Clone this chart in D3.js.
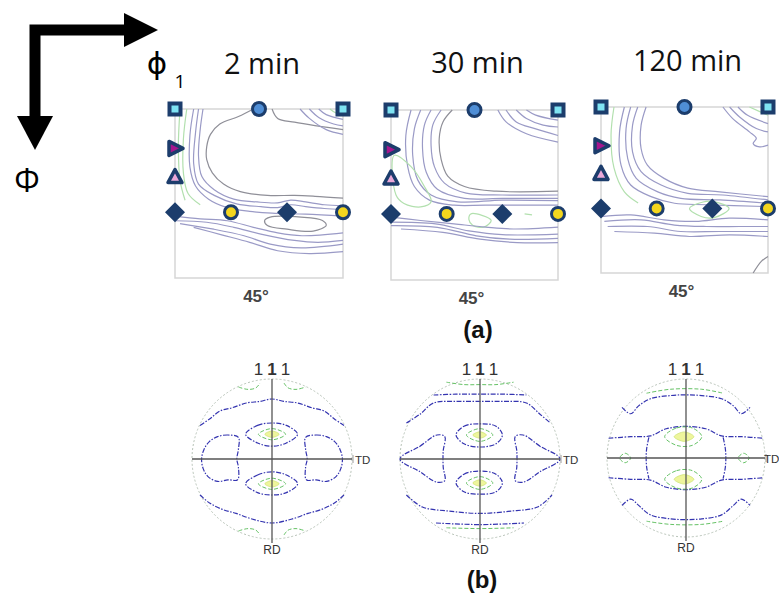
<!DOCTYPE html>
<html>
<head>
<meta charset="utf-8">
<script src="https://cdn.jsdelivr.net/npm/d3@7"></script>
<style>
  body { margin: 0; background: #fff; }
  svg { display: block; }
</style>
</head>
<body>
<div id="fig"></div>
<script>
// annealing times
const times = ["2 min", "30 min", "120 min"];
const sectionLabel = "45°";

// ideal orientations on the phi2 = 45 deg ODF section, [phi1, PHI] in degrees
const rotCube = [[0, 0], [90, 0]];
const rotCubeMid = [[45, 0]];
const alpha113 = [[0, 21]];
const alpha112 = [[0, 36]];
const gamma110 = [[0, 55], [60, 55]];
const gamma112 = [[30, 55], [90, 55]];

// traced ODF iso-lines, [phi1, PHI] degrees; lv 1 = low (grey), 2 = mid, 3 = high (green)
const odf2 = [
  { lv: 1, p: [[42,0],[34,4],[24,8],[19,13.5],[17,20],[17,27],[20,34],[26,40],[35,44],[49.5,46],[64,46],[75,46.5],[90,47.5]] },
  { lv: 1, p: [[52,0],[55,5],[64,7],[76,9],[90,11]] },
  { lv: 2, p: [[67,0],[72,5],[81,11],[90,13.5]] },
  { lv: 2, p: [[72,0],[77,4.5],[85,8],[90,9]] },
  { lv: 2, p: [[77,0],[81,3],[90,5.5]] },
  { lv: 3, p: [[83,0],[86,2],[90,3]] },
  { lv: 2, p: [[15,0],[13.5,11],[12.6,25],[14.4,36],[21,43],[31.5,48],[44,49.5],[55,50],[62,48.5],[70,49.5],[80,51],[90,51.5]] },
  { lv: 2, p: [[12.6,0],[11,12.6],[10,29],[12.6,40],[21,46],[33,50.5],[46,52],[55,52.5],[62,51],[70,52],[80,53],[90,53.5]] },
  { lv: 2, p: [[10,0],[8,14],[8,31],[11,41],[18,48],[28,52.5],[40,54.5],[52,55.5],[70,56],[90,57]] },
  { lv: 3, p: [[6.3,0],[4.5,16],[4.5,34],[7,45],[13.5,51]] },
  { lv: 3, p: [[2.7,0],[1.8,20],[2.7,38],[5.4,48.6]] },
  { lv: 2, p: [[0,57],[13.5,58.5],[28,59.5],[42,63],[55,66],[68,67.5],[90,66]] },
  { lv: 2, p: [[0,59.5],[17,60.3],[31.5,63],[46,66.6],[64,70],[76.5,71],[90,70]] },
  { lv: 2, p: [[2.7,61],[20.7,64],[37,67.5],[51,72],[67.5,74],[90,72]] },
  { lv: 2, p: [[10,63],[25,67],[40,71],[55,75.5],[72,77],[90,76]] },
  { lv: 1, z: 1, p: [[48,59.4],[51,57.6],[67.5,57.6],[79,59.4],[81,62],[74,65],[60,64],[49.5,62]] }
];
const odf30 = [
  { lv: 2, p: [[57.6,0],[62,6.3],[73,12.6],[90,17]] },
  { lv: 2, p: [[62,0],[67.5,6.3],[78,10],[90,13.5]] },
  { lv: 2, p: [[67.5,0],[73,4.5],[82,8],[90,9]] },
  { lv: 2, p: [[73,0],[78,2.7],[90,5.4]] },
  { lv: 1, p: [[33,0],[28,6.3],[26,15],[27,26],[30.6,35],[39.6,40.5],[56.7,43],[90,43]] },
  { lv: 2, p: [[27,0],[22.5,8],[21.6,19],[23.4,30],[28.8,38.7],[40.5,44],[60,45],[90,45]] },
  { lv: 2, p: [[21.6,0],[18,8],[17,20.7],[19,33],[25,42],[39.6,46.8],[60,46.8],[90,46.8]] },
  { lv: 2, p: [[16,0],[12.6,10],[11.7,24],[14.4,37],[21.6,45],[36,48.6],[60,47.7],[90,48]] },
  { lv: 2, p: [[10.8,0],[8,13.5],[9,30],[12.6,40.5],[20.7,47.7],[34,50.4],[51,50.4],[90,50.4]] },
  { lv: 3, z: 1, p: [[1.8,24],[10.8,30],[18,40.5],[21.6,48.6],[16,51.3],[7,49.5],[2.7,45]] },
  { lv: 3, z: 1, p: [[43,55],[49,55.8],[54,58.5],[50,62],[44,61],[42,58]] },
  { lv: 3, p: [[72,55],[76,55.5]] },
  { lv: 2, p: [[0,56.7],[16,58.5],[34,60.3],[51,62],[66,63],[90,62]] },
  { lv: 2, p: [[0,59.4],[24,60.3],[42,64],[60,66],[90,65.7]] },
  { lv: 2, p: [[0,61.2],[25,62.1],[46,66.6],[64,68.4],[90,68]] },
  { lv: 2, p: [[5.4,63],[28,64.8],[48,68.4],[68,70.2],[90,70.2]] }
];
const odf120 = [
  { lv: 2, p: [[65.7,0],[71,6.3],[80,13.5],[83.7,17],[82,19.8],[85.5,21.6],[90,20.7]] },
  { lv: 2, p: [[69.3,0],[74.7,5.4],[83.7,11.7],[90,13.5]] },
  { lv: 2, p: [[73.8,0],[79,4.5],[90,9]] },
  { lv: 3, p: [[80,0],[90,4.5]] },
  { lv: 2, p: [[24.3,0],[21.6,10],[21.6,22.5],[25,31.5],[34,38.7],[46.8,44],[64,46],[90,48.6]] },
  { lv: 2, p: [[19.8,0],[17,10],[17,24.3],[21.6,35],[32.4,42.3],[46.8,46.8],[65.7,47.7],[90,50.4]] },
  { lv: 2, p: [[16,0],[13.5,11.7],[14.4,28],[19,38.7],[30.6,46],[43,49.5],[64,50.4],[90,52.2]] },
  { lv: 2, p: [[12.6,0],[10,13.5],[10.8,31.5],[16,42.3],[27,48.6],[39.6,52.2],[56.7,53],[90,54]] },
  { lv: 3, p: [[7,0],[5.4,15.3],[7,33],[12.6,46],[20,52]] },
  { lv: 3, z: 1, p: [[47.7,55],[55,51.5],[61,51.3],[69,55],[61,60],[54,59.4]] },
  { lv: 2, p: [[0,59.4],[16,58.5],[34,61.2],[51,62],[69,60.3],[90,61.2]] },
  { lv: 2, p: [[1.8,62],[21.6,61.2],[39.6,64],[56.7,64.8],[74.7,64.8],[90,64.8]] },
  { lv: 2, p: [[3.6,64.8],[25,64.8],[43,67.5],[64,67.5],[90,67.5]] },
  { lv: 2, p: [[7.2,67.5],[28.8,68.4],[47.7,70.2],[69.3,69.3],[90,70.2]] },
  { lv: 1, p: [[82,90],[86.4,83.7],[90,81]] }
];
const odfData = [odf2, odf30, odf120];

// traced {111} pole figure iso-lines, x = TD, y = RD, unit circle
// lv 1 = blue (low), 2 = green, 3 = yellow core
const pf2 = [
  { lv: 2, p: [[-0.42,-0.9],[-0.3,-0.87],[-0.2,-0.89],[-0.15,-0.95]] },
  { lv: 2, p: [[0.15,-0.95],[0.2,-0.89],[0.3,-0.87],[0.42,-0.9]] },
  { lv: 2, p: [[-0.42,0.9],[-0.3,0.87],[-0.2,0.89],[-0.15,0.95]] },
  { lv: 2, p: [[0.15,0.95],[0.2,0.89],[0.3,0.87],[0.42,0.9]] },
  { lv: 1, p: [[-0.9,-0.42],[-0.78,-0.5],[-0.65,-0.6],[-0.5,-0.64],[-0.32,-0.7],[-0.15,-0.72],[0,-0.75],[0.15,-0.72],[0.32,-0.7],[0.5,-0.64],[0.65,-0.6],[0.78,-0.5],[0.9,-0.42]] },
  { lv: 1, p: [[-0.9,0.45],[-0.78,0.55],[-0.62,0.63],[-0.45,0.68],[-0.25,0.75],[0,0.8],[0.25,0.75],[0.45,0.68],[0.62,0.63],[0.78,0.55],[0.9,0.45]] },
  { lv: 1, z: 1, p: [[-0.42,-0.27],[-0.55,-0.3],[-0.68,-0.28],[-0.78,-0.22],[-0.85,-0.12],[-0.88,0],[-0.86,0.12],[-0.8,0.22],[-0.68,0.28],[-0.55,0.26],[-0.43,0.26],[-0.42,0.1],[-0.44,0],[-0.42,-0.12]] },
  { lv: 1, z: 1, p: [[0.42,-0.27],[0.55,-0.3],[0.68,-0.28],[0.78,-0.22],[0.85,-0.12],[0.88,0],[0.86,0.12],[0.8,0.22],[0.68,0.28],[0.55,0.26],[0.43,0.26],[0.42,0.1],[0.44,0],[0.42,-0.12]] },
  { lv: 1, z: 1, p: [[-0.33,-0.31],[-0.18,-0.42],[0,-0.45],[0.18,-0.42],[0.32,-0.31],[0.18,-0.2],[0,-0.16],[-0.18,-0.2]] },
  { lv: 2, z: 1, p: [[-0.17,-0.31],[0,-0.38],[0.17,-0.31],[0,-0.24]] },
  { lv: 3, z: 1, p: [[-0.09,-0.31],[0,-0.35],[0.09,-0.31],[0,-0.27]] },
  { lv: 1, z: 1, p: [[-0.33,0.31],[-0.18,0.2],[0,0.16],[0.18,0.2],[0.32,0.31],[0.18,0.42],[0,0.45],[-0.18,0.42]] },
  { lv: 2, z: 1, p: [[-0.17,0.31],[0,0.24],[0.17,0.31],[0,0.38]] },
  { lv: 3, z: 1, p: [[-0.09,0.31],[0,0.27],[0.09,0.31],[0,0.35]] }
];
const pf30 = [
  { lv: 2, p: [[-0.42,-0.96],[-0.2,-0.93],[0,-0.93],[0.2,-0.93],[0.42,-0.96]] },
  { lv: 1, p: [[-0.58,-0.8],[-0.3,-0.81],[0,-0.81],[0.3,-0.81],[0.58,-0.8]] },
  { lv: 1, p: [[-0.92,-0.45],[-0.75,-0.56],[-0.58,-0.7],[-0.3,-0.72],[0,-0.72],[0.3,-0.72],[0.58,-0.7],[0.75,-0.56],[0.88,-0.45]] },
  { lv: 1, p: [[-0.92,0.45],[-0.72,0.6],[-0.4,0.65],[0,0.68],[0.4,0.65],[0.72,0.6],[0.9,0.45]] },
  { lv: 1, p: [[-0.55,0.8],[0,0.82],[0.55,0.8]] },
  { lv: 2, p: [[-0.42,0.86],[0,0.87],[0.42,0.86]] },
  { lv: 1, z: 1, p: [[-1,0],[-0.75,-0.16],[-0.54,-0.3],[-0.44,-0.28],[-0.46,-0.1],[-0.46,0.1],[-0.44,0.27],[-0.54,0.29],[-0.75,0.16]] },
  { lv: 1, z: 1, p: [[1,0],[0.75,-0.16],[0.54,-0.3],[0.44,-0.28],[0.46,-0.1],[0.46,0.1],[0.44,0.27],[0.54,0.29],[0.75,0.16]] },
  { lv: 1, z: 1, p: [[-0.3,-0.3],[-0.2,-0.41],[0,-0.44],[0.2,-0.41],[0.28,-0.3],[0.2,-0.19],[0,-0.15],[-0.2,-0.19]] },
  { lv: 2, z: 1, p: [[-0.17,-0.3],[0,-0.38],[0.16,-0.3],[0,-0.22]] },
  { lv: 3, z: 1, p: [[-0.09,-0.3],[0,-0.34],[0.08,-0.3],[0,-0.26]] },
  { lv: 1, z: 1, p: [[-0.3,0.3],[-0.2,0.19],[0,0.15],[0.2,0.19],[0.28,0.3],[0.2,0.41],[0,0.44],[-0.2,0.41]] },
  { lv: 2, z: 1, p: [[-0.17,0.3],[0,0.22],[0.16,0.3],[0,0.38]] },
  { lv: 3, z: 1, p: [[-0.09,0.3],[0,0.26],[0.08,0.3],[0,0.34]] }
];
const pf120 = [
  { lv: 2, p: [[-0.5,-0.82],[-0.2,-0.87],[0.2,-0.87],[0.47,-0.82]] },
  { lv: 1, p: [[-0.81,-0.64],[-0.7,-0.56],[-0.6,-0.66],[-0.45,-0.75],[-0.2,-0.79],[0,-0.8],[0.2,-0.79],[0.45,-0.75],[0.6,-0.66],[0.7,-0.56],[0.81,-0.64]] },
  { lv: 1, p: [[-0.98,-0.25],[-0.7,-0.27],[-0.45,-0.28],[-0.25,-0.37],[0,-0.4],[0.25,-0.37],[0.45,-0.28],[0.7,-0.27],[0.98,-0.25]] },
  { lv: 1, p: [[-0.98,0.25],[-0.7,0.27],[-0.45,0.28],[-0.25,0.37],[0,0.4],[0.25,0.37],[0.45,0.28],[0.7,0.27],[0.98,0.25]] },
  { lv: 1, p: [[-0.47,-0.26],[-0.5,-0.1],[-0.5,0.1],[-0.47,0.26]] },
  { lv: 1, p: [[0.47,-0.26],[0.5,-0.1],[0.5,0.1],[0.47,0.26]] },
  { lv: 2, z: 1, p: [[-0.27,-0.27],[-0.12,-0.38],[0.08,-0.38],[0.2,-0.27],[0.08,-0.16],[-0.12,-0.16]] },
  { lv: 3, z: 1, p: [[-0.15,-0.27],[-0.02,-0.33],[0.1,-0.27],[-0.02,-0.21]] },
  { lv: 2, z: 1, p: [[-0.27,0.27],[-0.12,0.16],[0.08,0.16],[0.2,0.27],[0.08,0.38],[-0.12,0.38]] },
  { lv: 3, z: 1, p: [[-0.15,0.27],[-0.02,0.21],[0.1,0.27],[-0.02,0.33]] },
  { lv: 2, z: 1, p: [[-0.84,0],[-0.77,-0.06],[-0.7,0],[-0.77,0.06]] },
  { lv: 2, z: 1, p: [[0.66,0],[0.73,-0.06],[0.8,0],[0.73,0.06]] },
  { lv: 1, p: [[-0.81,0.6],[-0.7,0.52],[-0.6,0.6],[-0.45,0.72],[-0.2,0.77],[0,0.78],[0.2,0.77],[0.45,0.72],[0.6,0.6],[0.7,0.52],[0.81,0.6]] },
  { lv: 2, p: [[-0.5,0.8],[-0.2,0.84],[0.2,0.84],[0.47,0.8]] }
];
const pfData = [pf2, pf30, pf120];
const poleLabel = ["1", "1", "1"];

// ---------- drawing ----------
const W = 779, H = 595;
const navy = "#1c3d6c";
const svg = d3.select("#fig").append("svg")
  .attr("width", W).attr("height", H)
  .style("font-family", "'Liberation Sans', Arial, sans-serif");
svg.append("rect").attr("width", W).attr("height", H).attr("fill", "#fff");

// axis arrows
svg.append("path")
  .attr("d", "M35,120 V30 H128")
  .attr("fill", "none").attr("stroke", "#000")
  .attr("stroke-width", 11).attr("stroke-linejoin", "miter");
svg.append("path").attr("d", "M124,13 L158,30 L124,47 Z").attr("fill", "#000");
svg.append("path").attr("d", "M17,116 L35,150 L53,116 Z").attr("fill", "#000");
svg.append("text").attr("x", 27).attr("y", 192).attr("text-anchor", "middle")
  .style("font-family", "'Open Sans', sans-serif").style("font-size", "32px").text("Φ");
svg.append("text").attr("x", 157).attr("y", 74).attr("text-anchor", "middle")
  .style("font-family", "'DejaVu Sans', sans-serif").style("font-size", "31px").text("ϕ");
svg.append("text").attr("x", 180).attr("y", 88).attr("text-anchor", "middle")
  .style("font-family", "'Open Sans', sans-serif").style("font-size", "19px").text("1");

// ODF sections
const panels = [
  { x0: 175, x1: 343, y0: 109, y1: 278, ty: 74 },
  { x0: 391, x1: 558, y0: 110, y1: 280, ty: 73 },
  { x0: 601, x1: 768, y0: 107, y1: 273, ty: 71 }
];
const odfColor = { 1: "#8f8f98", 2: "#9a9ac6", 3: "#b2e0ae" };

panels.forEach((pn, i) => {
  const x = d3.scaleLinear().domain([0, 90]).range([pn.x0, pn.x1]);
  const y = d3.scaleLinear().domain([0, 90]).range([pn.y0, pn.y1]);
  const g = svg.append("g");

  svg.append("text").attr("x", (pn.x0 + pn.x1) / 2 + 3).attr("y", pn.ty)
    .attr("text-anchor", "middle")
    .style("font-family", "'Open Sans', sans-serif").style("font-size", "29px")
    .attr("fill", "#111").text(times[i]);

  g.append("rect")
    .attr("x", x(0)).attr("y", y(0))
    .attr("width", x(90) - x(0)).attr("height", y(90) - y(0))
    .attr("fill", "#fff").attr("stroke", "#d6d6d6").attr("stroke-width", 1.5);

  const line = d3.line().x(d => x(d[0])).y(d => y(d[1]));
  g.selectAll("path.iso")
    .data(odfData[i])
    .enter().append("path")
    .attr("class", "iso")
    .attr("d", d => line.curve(d.z ? d3.curveCatmullRomClosed : d3.curveCatmullRom)(d.p))
    .attr("fill", "none")
    .attr("stroke", d => odfColor[d.lv])
    .attr("stroke-width", 1.2);

  g.append("text").attr("x", (pn.x0 + pn.x1) / 2 - 3).attr("y", pn.y1 + 24)
    .attr("text-anchor", "middle").style("font-size", "17px")
    .style("font-weight", "bold").attr("fill", "#444").text(sectionLabel);

  // orientation markers
  const mk = g.append("g");
  mk.selectAll("rect.cube").data(rotCube).enter().append("rect")
    .attr("x", d => x(d[0]) - 5.5).attr("y", d => y(d[1]) - 5.5)
    .attr("width", 11).attr("height", 11)
    .attr("fill", "#7fe3f2").attr("stroke", navy).attr("stroke-width", 4);
  mk.selectAll("circle.mid").data(rotCubeMid).enter().append("circle")
    .attr("cx", d => x(d[0])).attr("cy", d => y(d[1])).attr("r", 6.5)
    .attr("fill", "#4f8ed6").attr("stroke", navy).attr("stroke-width", 3);
  mk.selectAll("path.tr").data(alpha113).enter().append("path")
    .attr("transform", d => `translate(${x(d[0])},${y(d[1])})`)
    .attr("d", "M-6,-7 L8,0 L-6,7 Z")
    .attr("fill", "#a5168e").attr("stroke", navy).attr("stroke-width", 3.5)
    .attr("stroke-linejoin", "round");
  mk.selectAll("path.tu").data(alpha112).enter().append("path")
    .attr("transform", d => `translate(${x(d[0])},${y(d[1])})`)
    .attr("d", "M0,-7 L7,6 L-7,6 Z")
    .attr("fill", "#eaa8d8").attr("stroke", navy).attr("stroke-width", 3.5)
    .attr("stroke-linejoin", "round");
  mk.selectAll("path.dm").data(gamma110).enter().append("path")
    .attr("transform", d => `translate(${x(d[0])},${y(d[1])})`)
    .attr("d", "M0,-10 L10,0 L0,10 L-10,0 Z")
    .attr("fill", navy);
  mk.selectAll("circle.yc").data(gamma112).enter().append("circle")
    .attr("cx", d => x(d[0])).attr("cy", d => y(d[1])).attr("r", 6.5)
    .attr("fill", "#f3d61e").attr("stroke", navy).attr("stroke-width", 3);
});

svg.append("text").attr("x", 478).attr("y", 338).attr("text-anchor", "middle")
  .style("font-size", "24px").style("font-weight", "bold").attr("fill", "#111").text("(a)");

// pole figures
const pfs = [
  { cx: 272, cy: 459, r: 80 },
  { cx: 480, cy: 459, r: 80 },
  { cx: 686, cy: 458, r: 79 }
];
pfs.forEach((pf, i) => {
  const sx = d3.scaleLinear().domain([-1, 1]).range([pf.cx - pf.r, pf.cx + pf.r]);
  const sy = d3.scaleLinear().domain([-1, 1]).range([pf.cy - pf.r, pf.cy + pf.r]);
  const g = svg.append("g");

  g.append("circle").attr("cx", sx(0)).attr("cy", sy(0)).attr("r", sx(1) - sx(0))
    .attr("fill", "#fff").attr("stroke", "#b9c4b9")
    .attr("stroke-width", 1).attr("stroke-dasharray", "2,2");

  const line = d3.line().x(d => sx(d[0])).y(d => sy(d[1]));
  const lines = pfData[i];
  g.selectAll("path.core").data(lines.filter(d => d.lv === 3)).enter().append("path")
    .attr("d", d => line.curve(d3.curveCatmullRomClosed)(d.p))
    .attr("fill", "#eef59c").attr("stroke", "#cfe57a").attr("stroke-width", 0.8);
  g.selectAll("path.iso").data(lines.filter(d => d.lv < 3)).enter().append("path")
    .attr("d", d => line.curve(d.z ? d3.curveCatmullRomClosed : d3.curveCatmullRom)(d.p))
    .attr("fill", "none")
    .attr("stroke", d => d.lv === 1 ? "#3434b0" : "#66c266")
    .attr("stroke-width", d => d.lv === 1 ? 1.2 : 1)
    .attr("stroke-dasharray", d => d.lv === 1 ? "5,1.5,1.5,1.5" : "4,2");

  // sample axes
  g.append("line").attr("x1", sx(-1)).attr("x2", sx(1)).attr("y1", sy(0)).attr("y2", sy(0))
    .attr("stroke", "#555").attr("stroke-width", 1.3);
  g.append("line").attr("x1", sx(0)).attr("x2", sx(0)).attr("y1", sy(-1)).attr("y2", sy(1) + 4)
    .attr("stroke", "#555").attr("stroke-width", 1.3);
  g.append("line").attr("x1", sx(1) + 1).attr("x2", sx(1) + 1).attr("y1", sy(0) - 4).attr("y2", sy(0) + 4)
    .attr("stroke", "#999").attr("stroke-width", 1);

  // keep the TD label inside the page
  const tdX = Math.min(sx(1) + 3, W - 15);
  g.append("text").attr("x", tdX).attr("y", sy(0) + 4.5)
    .style("font-size", "11.5px").attr("fill", "#333").text("TD");
  g.append("text").attr("x", sx(0)).attr("y", sy(1) + 15).attr("text-anchor", "middle")
    .style("font-size", "12px").attr("fill", "#333").text("RD");

  const t = g.append("text").attr("x", sx(0)).attr("y", sy(-1) - 4)
    .attr("text-anchor", "middle").style("font-size", "17px").attr("fill", "#333");
  poleLabel.forEach((c, k) => {
    t.append("tspan").attr("dx", k ? 4 : 0)
      .style("font-weight", k === 1 ? "bold" : "normal").text(c);
  });
});

svg.append("text").attr("x", 482).attr("y", 588).attr("text-anchor", "middle")
  .style("font-size", "24px").style("font-weight", "bold").attr("fill", "#111").text("(b)");
</script>
</body>
</html>
